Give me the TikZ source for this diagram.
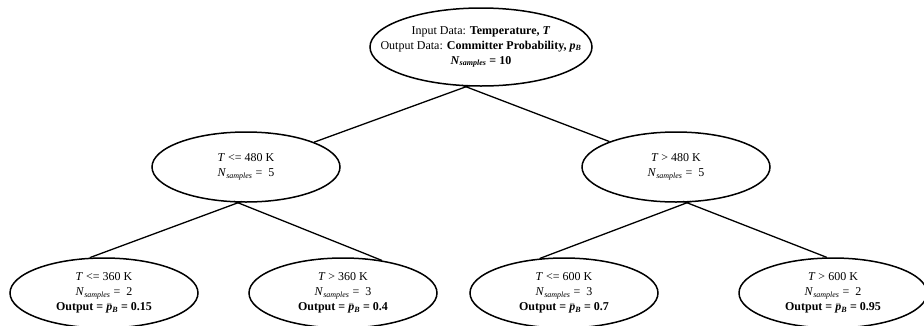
\documentclass[tikz,border=0pt]{standalone}
\usepackage{fontspec}
\setmainfont{Liberation Serif}
\usetikzlibrary{shapes.geometric,positioning}

\newcommand{\Nsmp}{\textit{N}\textsubscript{\textit{samples}}}
\newcommand{\pmean}{\mbox{$\bar{\hbox{\textbf{\textit{p}}}}$\textsubscript{\textbf{\textit{B}}}}}

\begin{document}
\begin{tikzpicture}[x=1pt, y=1pt, node distance=120pt, line width=1.5pt]
  \tikzstyle{every label}=[align=center, inner sep=0pt, font=\fontsize{12}{15}\selectfont]
  \tikzstyle{split}=[ellipse, draw, inner sep=0pt, minimum width=188pt, minimum height=70pt]
  \tikzstyle{rootsplit}=[split, minimum width=222pt, minimum height=78pt]
  \tikzstyle{branch}=[line width=1.3pt, shorten <=-4pt]

  \useasboundingbox (0,0) rectangle (924,-325);

  %% Root
  \node[rootsplit, label={center:{Input Data: \textbf{Temperature, \textit{T}}\\
      Output Data: \textbf{Committer Probability, \textit{p}\textsubscript{\textit{B}}}\\
      \textbf{\Nsmp{} = 10}}}] (root) at (481,-47) {};

  %% Level 1
  \node[split, label={center:{\textit{T} <= 480 K\\ \Nsmp{} =\ \ 5}}]
    (le480) [below of=root, xshift=-235pt] {};
  \node[split, label={center:{\textit{T} > 480 K\\ \Nsmp{} =\ \ 5}}]
    (gt480) [below of=root, xshift=195pt] {};

  %% Level 2
  \node[split, label={center:{\textit{T} <= 360 K\\ \Nsmp{} =\ \ 2\\ \textbf{Output = \pmean{} = 0.15}}}]
    (le360) [below of=le480, xshift=-142pt, yshift=-6pt] {};
  \node[split, label={center:{\textit{T} > 360 K\\ \Nsmp{} =\ \ 3\\ \textbf{Output = \pmean{} = 0.4}}}]
    (gt360) [below of=le480, xshift=97pt, yshift=-6pt] {};
  \node[split, label={center:{\textit{T} <= 600 K\\ \Nsmp{} =\ \ 3\\ \textbf{Output = \pmean{} = 0.7}}}]
    (le600) [below of=gt480, xshift=-112pt, yshift=-6pt] {};
  \node[split, label={center:{\textit{T} > 600 K\\ \Nsmp{} =\ \ 2\\ \textbf{Output = \pmean{} = 0.95}}}]
    (gt600) [below of=gt480, xshift=157pt, yshift=-6pt] {};

  %% Root branches
  \path[branch]
    ([xshift=-15pt]root.south) edge (le480)
    ([xshift=-15pt]root.south) edge (gt480);

  %% Level 1 branches
  \path[branch]
    ([xshift=-8pt]le480.south) edge (le360.112)
    ([xshift=-8pt]le480.south) edge (gt360.40);
  \path[branch]
    ([xshift=11pt]gt480.south) edge (le600.125)
    ([xshift=11pt]gt480.south) edge (gt600.100);
\end{tikzpicture}
\end{document}
